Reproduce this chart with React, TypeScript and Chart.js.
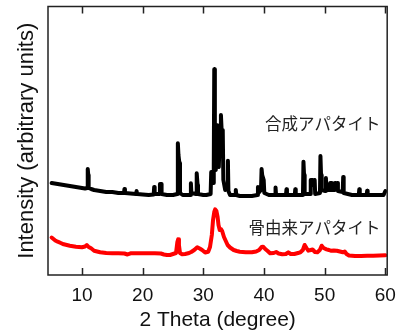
import React, { useEffect, useRef } from "react";
import { Chart, registerables } from "chart.js";

Chart.register(...registerables);

// 2θ (degree) and intensity (arbitrary units)
const synthTheta = [
  5.0, 5.5, 6.0, 6.5, 7.0, 7.5, 8.0, 8.5, 9.0, 9.5, 10.0, 10.5, 10.87, 10.95, 11.03, 11.1, 11.5, 12.0, 12.5, 13.0,
  13.5, 14.0, 15.0, 16.0, 16.92, 17.0, 17.08, 18.0, 18.92, 19.0, 19.08, 20.0, 21.0, 21.82, 21.9, 21.98, 22.78, 22.85, 23.05, 23.12,
  24.0, 25.0, 25.72, 25.8, 25.9, 26.05, 26.15, 26.6, 27.0, 27.88, 27.95, 28.03, 28.8, 28.87, 28.95, 29.05, 29.12, 30.0, 30.5, 31.2,
  31.3, 31.45, 31.6, 31.72, 31.8, 31.9, 32.05, 32.2, 32.35, 32.55, 32.75, 32.9, 33.05, 33.2, 33.3, 33.6, 33.97, 34.05, 34.13, 34.4,
  35.27, 35.35, 35.43, 36.0, 37.0, 38.0, 38.92, 39.0, 39.08, 39.5, 39.6, 39.7, 39.95, 40.05, 40.8, 41.82, 41.9, 41.98, 43.0, 43.62,
  43.7, 43.78, 45.07, 45.15, 45.23, 46.42, 46.5, 46.6, 46.7, 47.62, 47.7, 47.95, 48.05, 48.35, 48.43, 49.22, 49.3, 49.4, 49.5, 50.12,
  50.2, 50.28, 50.82, 50.9, 51.1, 51.18, 51.62, 51.7, 51.78, 52.02, 52.1, 52.18, 52.97, 53.05, 53.13, 54.5, 55.62, 55.7, 55.78, 56.92,
  57.0, 57.08, 58.0, 59.0, 59.7, 60.0,
];
const synthIntensity = [
  92, 91.5, 91, 90.5, 90, 89.5, 89, 88.5, 88, 87.5, 87, 86.5, 87, 106, 100, 87, 86, 85, 84.5, 84,
  83.5, 83, 83, 82, 82, 86, 82, 81.5, 81, 84, 81, 80.5, 80, 80.5, 88, 81, 81, 91, 91, 81,
  80, 80, 81, 131.7, 120, 112, 82, 80, 80, 80, 91.7, 82, 81, 90, 101.7, 90, 81, 80, 80, 81,
  103, 100, 92, 110, 205.7, 110, 105, 150, 110, 108, 150, 160, 140, 145, 95, 85, 90, 114.3, 84, 80,
  80, 85, 80, 79, 79, 79, 80, 88, 82, 85, 106, 100, 95, 82, 80, 80, 87.5, 80, 80, 80,
  85.7, 80, 80, 85.7, 80, 80, 113.3, 100, 81, 81, 95, 95, 90, 95, 81, 82, 119, 100, 85, 84,
  97, 85, 85, 92, 92, 85, 85, 92, 86, 86, 92, 84, 83, 98, 82, 80, 80, 85.7, 80, 80,
  84.3, 80, 80, 80, 80, 84,
];

const boneTheta = [
  5.0, 5.3, 5.6, 6.0, 6.5, 7.0, 7.5, 8.0, 8.5, 9.0, 9.5, 10.0, 10.5, 10.8, 11.1, 11.5, 12.0, 12.5, 13.0, 14.0,
  15.0, 16.0, 17.0, 17.5, 18.0, 19.0, 20.0, 21.0, 22.0, 23.0, 23.5, 24.0, 24.5, 25.0, 25.5, 25.72, 25.85, 25.98, 26.15, 26.5,
  27.0, 27.5, 28.0, 28.5, 29.0, 29.4, 29.8, 30.3, 30.8, 31.1, 31.4, 31.6, 31.8, 31.95, 32.15, 32.35, 32.5, 32.7, 32.9, 33.1,
  33.4, 33.7, 34.0, 34.4, 35.0, 35.5, 36.0, 37.0, 38.0, 38.7, 39.2, 39.6, 39.85, 40.2, 40.6, 41.0, 41.6, 42.0, 42.4, 43.0,
  43.6, 44.0, 44.4, 45.0, 45.6, 46.0, 46.4, 46.7, 47.0, 47.3, 47.7, 48.0, 48.4, 48.8, 49.2, 49.5, 49.8, 50.3, 50.7, 51.0,
  51.5, 52.0, 52.5, 53.0, 53.3, 53.6, 54.0, 55.0, 56.0, 57.0, 58.0, 59.0, 60.0,
];
const boneIntensity = [
  37.5, 36, 34.5, 33.3, 32, 30.7, 30, 29.3, 28.8, 28.3, 28, 27.7, 28.5, 30, 28, 26.7, 24.3, 23.5, 22.7, 22,
  21.7, 21.7, 21.5, 20.5, 21.7, 21.7, 21.7, 21.7, 21.7, 21.5, 20.5, 20, 20, 21, 22, 33, 35.7, 30, 22, 20.7,
  21, 21.7, 23, 25, 27.7, 26.5, 25, 22.5, 23.3, 28, 40, 55, 63, 65.7, 64, 58, 50, 45, 46, 44,
  38, 34, 30, 27.5, 25, 24, 23.3, 22.7, 22.7, 23.5, 25, 28, 28.3, 26, 24, 21.7, 22, 23, 21.5, 20.7,
  21, 22.7, 21, 21, 22, 22.7, 25, 30, 27, 24.3, 25, 25.5, 23, 22.7, 25, 29.3, 27, 25.7, 25, 24.3,
  24.5, 24.3, 23.5, 22.7, 23.5, 21, 19.5, 19, 19, 19.2, 19.3, 19.5, 19.7,
];

const xTickValues = [10, 20, 30, 40, 50, 60];
const seriesLabels = ["合成アパタイト", "骨由来アパタイト"];
const xTitle = "2 Theta (degree)";
const yTitle = "Intensity (arbitrary units)";

const framePlugin = {
  id: "frameAndLabels",
  afterDraw(chart: any) {
    const { ctx, chartArea } = chart;
    const { left, right, top, bottom } = chartArea;
    const xs = chart.scales.x;
    const ys = chart.scales.y;
    ctx.save();
    ctx.strokeStyle = "#222";
    ctx.lineWidth = 1.5;
    ctx.strokeRect(left, top, right - left, bottom - top);
    ctx.beginPath();
    xTickValues.forEach((v) => {
      const px = Math.round(xs.getPixelForValue(v)) + 0.5;
      ctx.moveTo(px, bottom);
      ctx.lineTo(px, bottom - 7);
      ctx.moveTo(px, top);
      ctx.lineTo(px, top + 7);
    });
    ctx.stroke();
    ctx.fillStyle = "#222";
    ctx.font = '16.5px "Noto Sans CJK JP"';
    ctx.textAlign = "right";
    ctx.textBaseline = "middle";
    const tx = xs.getPixelForValue(59.2);
    ctx.fillText(seriesLabels[0], tx, ys.getPixelForValue(151));
    ctx.fillText(seriesLabels[1], tx, ys.getPixelForValue(47));
    ctx.restore();
  },
};

export default function App() {
  const ref = useRef<HTMLCanvasElement | null>(null);
  useEffect(() => {
    if (!ref.current) return;
    const chart = new Chart(ref.current, {
      type: "line",
      data: {
        datasets: [
          {
            label: seriesLabels[0],
            data: synthTheta.map((x, i) => ({ x, y: synthIntensity[i] })),
            borderColor: "#000000",
            borderWidth: 4,
            borderJoinStyle: "round",
            borderCapStyle: "round",
            pointRadius: 0,
            tension: 0,
            fill: false,
          },
          {
            label: seriesLabels[1],
            data: boneTheta.map((x, i) => ({ x, y: boneIntensity[i] })),
            borderColor: "#ff0000",
            borderWidth: 4,
            borderJoinStyle: "round",
            borderCapStyle: "round",
            pointRadius: 0,
            tension: 0,
            fill: false,
          },
        ],
      },
      options: {
        responsive: false,
        animation: false,
        layout: { padding: { top: 6.5, right: 12, left: 0, bottom: 0 } },
        plugins: { legend: { display: false }, tooltip: { enabled: false } },
        scales: {
          x: {
            type: "linear",
            min: 4.4,
            max: 60.3,
            afterBuildTicks: (s: any) => {
              s.ticks = xTickValues.map((v) => ({ value: v }));
            },
            afterFit: (s: any) => {
              s.height = 60;
            },
            grid: { display: false, drawTicks: false },
            border: { display: false },
            ticks: {
              padding: 9,
              color: "#111",
              font: { family: '"Liberation Sans", Arial, sans-serif', size: 19 },
              maxRotation: 0,
            },
            title: {
              display: true,
              text: xTitle,
              color: "#111",
              font: { family: '"Liberation Sans", Arial, sans-serif', size: 21 },
              padding: { top: 0, bottom: 2 },
            },
          },
          y: {
            type: "linear",
            min: 0,
            max: 268.5,
            afterFit: (s: any) => {
              s.width = 48;
            },
            grid: { display: false, drawTicks: false },
            border: { display: false },
            ticks: { display: false },
            title: {
              display: true,
              text: yTitle,
              color: "#111",
              font: { family: '"Liberation Sans", Arial, sans-serif', size: 22 },
              padding: { top: 14, bottom: 0 },
            },
          },
        },
      },
      plugins: [framePlugin],
    });
    return () => chart.destroy();
  }, []);
  return (
    <div style={{ position: "fixed", left: 0, top: 0, width: 405, height: 335, background: "#fff" }}>
      <canvas ref={ref} width={405} height={335} />
    </div>
  );
}
